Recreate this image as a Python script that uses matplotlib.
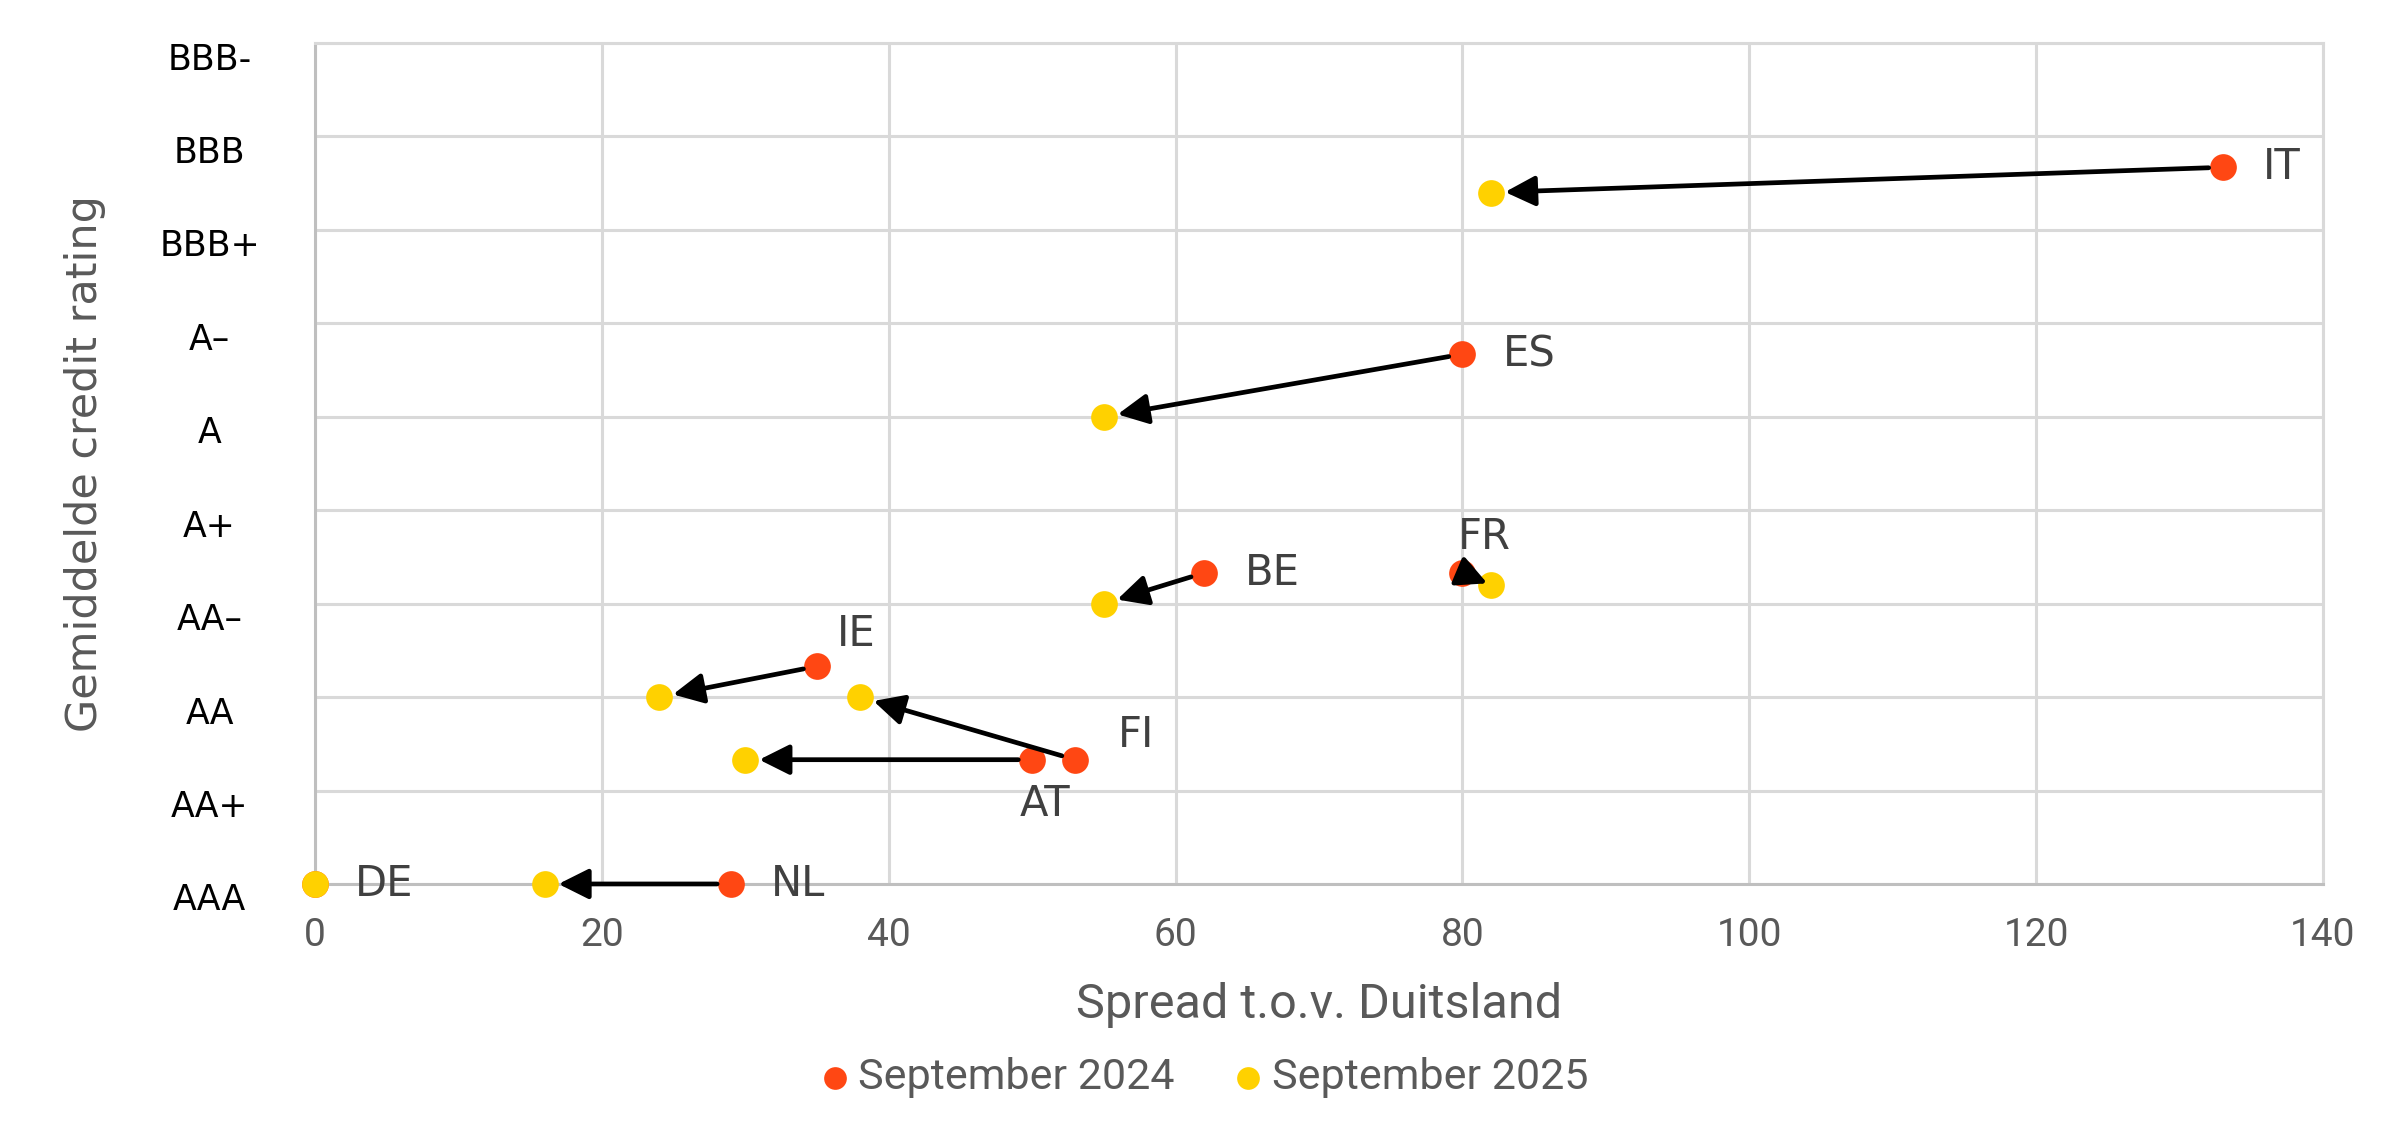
import matplotlib
matplotlib.use("Agg")
import matplotlib.pyplot as plt
from matplotlib.transforms import ScaledTranslation

# data
countries = ["IT", "ES", "BE", "FR", "IE", "FI", "AT", "NL", "DE"]
spread_2024 = [133, 80, 62, 80, 35, 53, 50, 29, 0]
rating_2024 = [7.67, 5.67, 3.33, 3.33, 2.33, 1.33, 1.33, 0, 0]
spread_2025 = [82, 55, 55, 82, 24, 38, 30, 16, 0]
rating_2025 = [7.4, 5.0, 3.0, 3.2, 2.0, 2.0, 1.33, 0, 0]

rating_labels = ["AAA", "AA+", "AA", "AA\u2013", "A+", "A", "A\u2013", "BBB+", "BBB", "BBB-"]
x_ticks = [0, 20, 40, 60, 80, 100, 120, 140]

# label offsets in points (dx, dy, ha) relative to the 2024 point
label_pos = {
    "IT": (29, 0, "left"), "ES": (29, 0, "left"), "BE": (29, 0, "left"),
    "FR": (16, 26, "center"), "IE": (14, 23, "left"), "FI": (31, 18, "left"),
    "AT": (9, -32, "center"), "NL": (29, 0, "left"), "DE": (29, 0, "left"),
}
shrink_a = {"FR": 1}
shrink_b = {"FR": 3}

red = "#FF4713"
yellow = "#FFD100"
grid_c = "#D9D9D9"
axis_c = "#BFBFBF"
gray = "#595959"

fig = plt.figure(figsize=(23.98, 11.44), dpi=100)
ax = fig.add_axes([0.1314, 0.2273, 0.8373, 0.7351])

ax.set_xlim(0, 140)
ax.set_ylim(0, 9)
ax.set_xticks(x_ticks)
ax.set_yticks(range(len(rating_labels)))
ax.set_yticklabels(rating_labels, fontsize=25, color="black", family="DejaVu Sans", ha="center")
ax.set_xticklabels([str(v) for v in x_ticks], fontsize=28, color=gray, family="Roboto")
ax.tick_params(axis="y", length=0, pad=76)
ax.tick_params(axis="x", length=0, pad=24)
for lab in ax.get_yticklabels():
    lab.set_transform(lab.get_transform() + ScaledTranslation(0, -0.13, fig.dpi_scale_trans))

ax.grid(True, color=grid_c, lw=2.2, zorder=0)
ax.set_axisbelow(True)
for s in ["top", "right"]:
    ax.spines[s].set_color(grid_c)
    ax.spines[s].set_linewidth(2.2)
for s in ["left", "bottom"]:
    ax.spines[s].set_color(axis_c)
    ax.spines[s].set_linewidth(2.2)

# arrows from 2024 to 2025
for c, x0, y0, x1, y1 in zip(countries, spread_2024, rating_2024, spread_2025, rating_2025):
    if x0 == x1 and y0 == y1:
        continue
    ax.annotate("", xy=(x1, y1), xytext=(x0, y0),
                arrowprops=dict(arrowstyle="-|>", color="black", lw=3.4, mutation_scale=46,
                                shrinkA=shrink_a.get(c, 10), shrinkB=shrink_b.get(c, 10)),
                zorder=4, annotation_clip=False)

ax.scatter(spread_2024, rating_2024, s=370, color=red, zorder=3, clip_on=False,
           label="September 2024", linewidths=0)
ax.scatter(spread_2025, rating_2025, s=370, color=yellow, zorder=3, clip_on=False,
           label="September 2025", linewidths=0)

for c, x0, y0 in zip(countries, spread_2024, rating_2024):
    dx, dy, ha = label_pos[c]
    ax.annotate(c, (x0, y0), xytext=(dx, dy), textcoords="offset points",
                ha=ha, va="center", fontsize=30, color="#404040", family="DejaVu Sans",
                zorder=5, annotation_clip=False)

ax.set_xlabel("Spread t.o.v. Duitsland", fontsize=35, color=gray, family="Roboto", labelpad=20)
ax.set_ylabel("Gemiddelde credit rating", fontsize=31, color=gray, family="DejaVu Sans", labelpad=38)

fig.legend(loc="center", bbox_to_anchor=(0.5025, 0.0577), ncol=2, frameon=False,
           prop={"family": "Roboto", "size": 31}, labelcolor=gray,
           handlelength=0.6, handletextpad=0.25, columnspacing=1.4, markerscale=0.85)

fig.savefig("out.png", dpi=100)
